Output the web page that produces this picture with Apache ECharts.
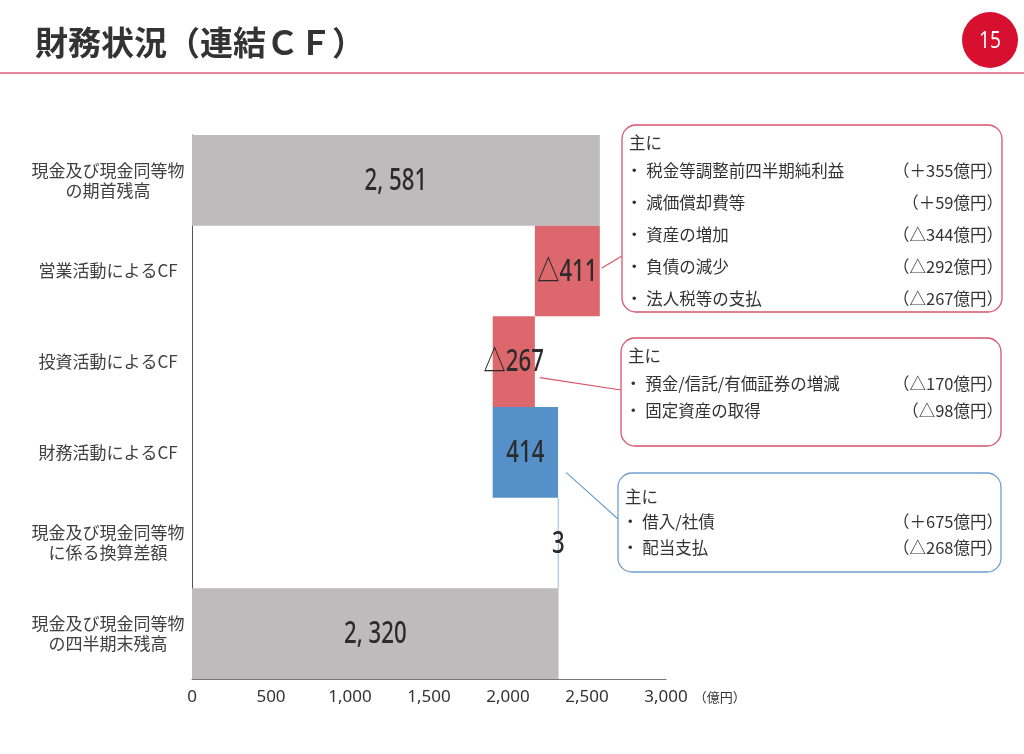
<!DOCTYPE html>
<html><head><meta charset="utf-8">
<script src="https://cdn.jsdelivr.net/npm/echarts@6/dist/echarts.min.js"></script>
<style>html,body{margin:0;padding:0;background:#fff}#c{width:1024px;height:754px}</style>
</head><body><div id="c"></div>
<script>
const categories = ['現金及び現金同等物\nの期首残高','営業活動によるCF','投資活動によるCF','財務活動によるCF','現金及び現金同等物\nに係る換算差額','現金及び現金同等物\nの四半期末残高'];
const amounts = [2581, -411, -267, 414, 3, 2320];
const kinds = ['total','delta','delta','delta','delta','total'];
const axisMin = 0, axisMax = 3000, axisStep = 500;
const unitLabel = '（億円）';
const titleText = '財務状況（連結ＣＦ）';
const pageNo = '15';
const note1Items = [['・ 税金等調整前四半期純利益','（＋355億円）'],['・ 減価償却費等','（＋59億円）'],['・ 資産の増加','（△344億円）'],['・ 負債の減少','（△292億円）'],['・ 法人税等の支払','（△267億円）']];
const note2Items = [['・ 預金/信託/有価証券の増減','（△170億円）'],['・ 固定資産の取得','（△98億円）']];
const note3Items = [['・ 借入/社債','（＋675億円）'],['・ 配当支払','（△268億円）']];
const noteHead = '主に';

// waterfall geometry from data
const bases = [], lengths = [];
let run = 0;
amounts.forEach((a, i) => {
  if (kinds[i] === 'total') { bases.push(0); lengths.push(a); run = a; }
  else if (a < 0) { bases.push(run + a); lengths.push(-a); run += a; }
  else { bases.push(run); lengths.push(a); run += a; }
});
const GRAY = '#bdbbbb', RED = '#dc686d', BLUE = '#5690c8', LIGHTBLUE = '#a3c0e3';
function fmtThousands(v){ const s = String(Math.abs(v)); return s.length > 3 ? s.slice(0, -3) + ', ' + s.slice(-3) : s; }
function labelFor(i){ const a = amounts[i]; if (kinds[i]==='total') return fmtThousands(a); return a < 0 ? '△' + Math.abs(a) : String(a); }
function colorFor(i){ if (kinds[i]==='total') return GRAY; if (amounts[i] < 0) return RED; return Math.abs(amounts[i]) < 20 ? LIGHTBLUE : BLUE; }

const NUMFONT = "'Noto Sans','Noto Sans CJK JP',sans-serif";
const JPFONT = "'Noto Sans CJK JP','Noto Sans',sans-serif";

const chart = echarts.init(document.getElementById('c'));
chart.setOption({
  animation: false,
  grid: { left: 192, right: 358, top: 135, bottom: 75 },
  xAxis: {
    type: 'value', min: axisMin, max: axisMax, interval: axisStep,
    axisLine: { show: true, lineStyle: { color: '#777', width: 1 } },
    axisTick: { show: false }, splitLine: { show: false },
    axisLabel: { fontFamily: NUMFONT, fontSize: 17, color: '#333', margin: 10,
      formatter: v => v >= 1000 ? Math.floor(v/1000) + ',' + String(v%1000).padStart(3,'0') : String(v) },
    name: unitLabel, nameLocation: 'end', nameGap: 18,
    nameTextStyle: { fontFamily: JPFONT, fontSize: 13, color: '#333', verticalAlign: 'top', padding: [12, 0, 0, 0] }
  },
  yAxis: {
    type: 'category', data: categories, inverse: true,
    axisLine: { show: true, lineStyle: { color: '#555', width: 1 } },
    axisTick: { show: false },
    axisLabel: { fontFamily: JPFONT, fontSize: 17, color: '#404040', lineHeight: 20, align: 'center', margin: 84 }
  },
  series: [
    { type: 'bar', stack: 'w', data: bases, itemStyle: { color: 'transparent' }, barCategoryGap: '0%', silent: true },
    { type: 'bar', stack: 'w', barCategoryGap: '0%',
      data: lengths.map((v, i) => ({ value: v, itemStyle: { color: colorFor(i), borderColor: colorFor(i), borderWidth: Math.abs(amounts[i]) < 20 ? 0.8 : 0 } })) },
    { type: 'custom', coordinateSystem: 'cartesian2d', z: 5,
      data: lengths.map((v, i) => [bases[i] + v / 2, i]),
      renderItem: (params, api) => {
        const pt = api.coord([api.value(0), api.value(1)]);
        return { type: 'text', x: pt[0], y: pt[1] + 1, scaleX: 0.74,
          style: { text: labelFor(params.dataIndex), font: '500 30px ' + NUMFONT, fill: '#2b2b2b', align: 'center', verticalAlign: 'middle' } };
      } }
  ]
});

function noteBox(x, y, w, h, color, items, rowYs, rightX) {
  const F = '16.5px ' + JPFONT;
  const els = [{ type: 'rect', shape: { x, y, width: w, height: h, r: 14 }, style: { fill: '#fff', stroke: color, lineWidth: 1.3 } }];
  els.push({ type: 'text', x: x + 7, y: rowYs[0], style: { text: noteHead, font: F, fill: '#333', verticalAlign: 'middle', align: 'left' } });
  items.forEach((it, k) => {
    els.push({ type: 'text', x: x + 4, y: rowYs[k+1], style: { text: it[0], font: F, fill: '#333', verticalAlign: 'middle', align: 'left' } });
    els.push({ type: 'text', x: rightX, y: rowYs[k+1], style: { text: it[1], font: F, fill: '#333', verticalAlign: 'middle', align: 'right' } });
  });
  return els;
}

const p1 = chart.convertToPixel({ xAxisIndex: 0, yAxisIndex: 0 }, [bases[1] + lengths[1], 1]);
const p2 = chart.convertToPixel({ xAxisIndex: 0, yAxisIndex: 0 }, [bases[2] + lengths[2], 2]);
const p3 = chart.convertToPixel({ xAxisIndex: 0, yAxisIndex: 0 }, [bases[3] + lengths[3], 3]);

chart.setOption({
  graphic: [
    { type: 'text', x: 35, y: 42, style: { text: titleText, font: 'bold 33px ' + JPFONT, fill: '#333', verticalAlign: 'middle', align: 'left' } },
    { type: 'line', shape: { x1: 0, y1: 73, x2: 1024, y2: 73 }, style: { stroke: '#e0637a', lineWidth: 1.5 } },
    { type: 'circle', shape: { cx: 990, cy: 40, r: 28 }, style: { fill: '#d7102f' } },
    { type: 'text', x: 990, y: 41, scaleX: 0.8, style: { text: pageNo, font: '24px ' + NUMFONT, fill: '#fff', align: 'center', verticalAlign: 'middle' } },
    { type: 'line', shape: { x1: p1[0] + 2, y1: p1[1] - 3, x2: 622, y2: 256 }, style: { stroke: '#d9536b', lineWidth: 1.2 } },
    { type: 'line', shape: { x1: p2[0] + 5, y1: p2[1] + 16, x2: 621, y2: 390 }, style: { stroke: '#d9536b', lineWidth: 1.2 } },
    { type: 'line', shape: { x1: p3[0] + 8, y1: p3[1] + 20, x2: 618, y2: 519 }, style: { stroke: '#6f9fd0', lineWidth: 1.2 } },
    ...noteBox(622, 125, 380, 187, '#d9536b', note1Items, [143, 171, 203, 235, 267, 299], 1003),
    ...noteBox(621, 338, 380, 108, '#d9536b', note2Items, [356, 384, 411], 1003),
    ...noteBox(618, 473, 383, 99, '#6f9fd0', note3Items, [497, 522, 548], 1003)
  ]
});
</script></body></html>
